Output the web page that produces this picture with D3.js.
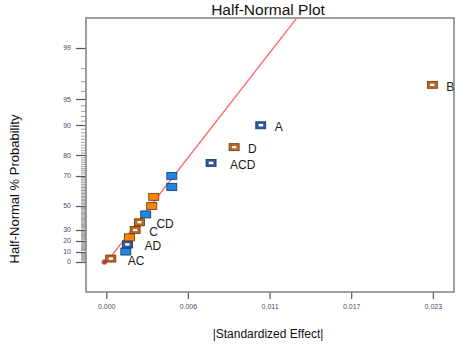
<!DOCTYPE html>
<html>
<head>
<meta charset="utf-8">
<script src="https://cdn.jsdelivr.net/npm/d3@7"></script>
<style>
  body { margin: 0; background: #fff; }
  svg { display: block; font-family: "Liberation Sans", Arial, sans-serif; }
</style>
</head>
<body>
<div id="chart"></div>
<script>
// effects, sorted by |effect|, with their half-normal % probability
var effects     = [0.00028, 0.00133, 0.00144, 0.00158, 0.00198, 0.00228, 0.00272, 0.00314, 0.00328, 0.00454, 0.00454, 0.00728, 0.00889, 0.01075, 0.02273];
var probability = [3.3, 10, 16.7, 23.3, 30, 36.7, 43.3, 50, 56.7, 63.3, 70, 76.7, 83.3, 90, 96.7];
var termLabels  = ['AC', '', 'AD', '', 'C', 'CD', '', '', '', '', '', 'ACD', 'D', 'A', 'B'];
var signs       = ['+', '-', '-', '+', '+', '+', '-', '+', '+', '-', '-', '-', '+', '-', '+'];

// the little marker sitting at the origin of the line
var originPoint = { value: -0.00017, prob: 0 };

// fitted line: |effect| = sigma * z
var lineSigma = 0.004517;

var yTicks = [0, 10, 20, 30, 50, 70, 80, 90, 95, 99];
var xTicks = [0, 0.0057, 0.0114, 0.0171, 0.0228];
var xTickLabels = ['0.000', '0.006', '0.011', '0.017', '0.023'];

var W = 465, H = 354;
var pLeft = 86, pRight = 454, pTop = 18, pBottom = 292;

// inverse normal cdf (Acklam)
function invNorm(p) {
  var a = [-3.969683028665376e+01, 2.209460984245205e+02, -2.759285104469687e+02, 1.383577518672690e+02, -3.066479806614716e+01, 2.506628277459239e+00];
  var b = [-5.447609879822406e+01, 1.615858368580409e+02, -1.556989798598866e+02, 6.680131188771972e+01, -1.328068155288572e+01];
  var c = [-7.784894002430293e-03, -3.223964580411365e-01, -2.400758277161838e+00, -2.549671010229244e+00, 4.374664141464968e+00, 2.938163982698783e+00];
  var d = [7.784695709041462e-03, 3.224671290700398e-01, 2.445134137142996e+00, 3.754408661907416e+00];
  var pl = 0.02425, q, r;
  if (p < pl) {
    q = Math.sqrt(-2 * Math.log(p));
    return (((((c[0]*q+c[1])*q+c[2])*q+c[3])*q+c[4])*q+c[5]) / ((((d[0]*q+d[1])*q+d[2])*q+d[3])*q+1);
  }
  if (p <= 1 - pl) {
    q = p - 0.5; r = q*q;
    return (((((a[0]*r+a[1])*r+a[2])*r+a[3])*r+a[4])*r+a[5])*q / (((((b[0]*r+b[1])*r+b[2])*r+b[3])*r+b[4])*r+1);
  }
  q = Math.sqrt(-2 * Math.log(1 - p));
  return -(((((c[0]*q+c[1])*q+c[2])*q+c[3])*q+c[4])*q+c[5]) / ((((d[0]*q+d[1])*q+d[2])*q+d[3])*q+1);
}
function halfZ(pct) { return pct <= 0 ? 0 : invNorm(0.5 + pct / 200); }

var x = d3.scaleLinear().domain([-0.00145, 0.02424]).range([pLeft, pRight]);
var yz = d3.scaleLinear().domain([-0.361, 2.936]).range([pBottom, pTop]);
var y = function(pct) { return yz(halfZ(pct)); };

var svg = d3.select('#chart').append('svg')
  .attr('width', W)
  .attr('height', H);

svg.append('defs').append('clipPath').attr('id', 'plotclip')
  .append('rect')
  .attr('x', pLeft).attr('y', pTop)
  .attr('width', pRight - pLeft).attr('height', pBottom - pTop);

// title
svg.append('text')
  .attr('x', 268).attr('y', 15)
  .attr('text-anchor', 'middle')
  .attr('font-size', 15.5)
  .style('fill', '#111')
  .text('Half-Normal Plot');

// y axis: minor ticks every 1%
var minor = d3.range(1, 99).filter(function(v) { return yTicks.indexOf(v) < 0; });
svg.append('g').selectAll('line').data(minor).enter().append('line')
  .attr('x1', 81).attr('x2', pLeft)
  .attr('y1', function(d) { return y(d); })
  .attr('y2', function(d) { return y(d); })
  .style('stroke', '#777')
  .style('stroke-width', 0.7);

var yAxis = svg.append('g');
yAxis.selectAll('line').data(yTicks).enter().append('line')
  .attr('x1', 76).attr('x2', pLeft)
  .attr('y1', function(d) { return Math.round(y(d)) + 0.5; })
  .attr('y2', function(d) { return Math.round(y(d)) + 0.5; })
  .style('stroke', '#555')
  .style('stroke-width', 1.2);
yAxis.selectAll('text').data(yTicks).enter().append('text')
  .attr('x', 71)
  .attr('y', function(d) { return y(d) + 2.5; })
  .attr('text-anchor', 'end')
  .attr('font-size', 7)
  .style('fill', '#4a4a6a')
  .text(function(d) { return d; });

// x axis
var xAxis = svg.append('g');
xAxis.selectAll('line').data(xTicks).enter().append('line')
  .attr('x1', function(d) { return x(d); })
  .attr('x2', function(d) { return x(d); })
  .attr('y1', pBottom).attr('y2', pBottom + 7)
  .style('stroke', '#555')
  .style('stroke-width', 1.2);
xAxis.selectAll('text').data(xTicks).enter().append('text')
  .attr('x', function(d) { return x(d); })
  .attr('y', 309)
  .attr('text-anchor', 'middle')
  .attr('font-size', 7)
  .style('fill', '#4a4a6a')
  .text(function(d, i) { return xTickLabels[i]; });

// frame
svg.append('rect')
  .attr('x', pLeft).attr('y', pTop)
  .attr('width', pRight - pLeft).attr('height', pBottom - pTop)
  .style('fill', 'none')
  .style('stroke', '#808080')
  .style('stroke-width', 1.5);

// axis titles
svg.append('text')
  .attr('x', 268).attr('y', 338)
  .attr('text-anchor', 'middle')
  .attr('font-size', 12)
  .style('fill', '#111')
  .text('|Standardized Effect|');

svg.append('text')
  .attr('transform', 'translate(19,189) rotate(-90)')
  .attr('text-anchor', 'middle')
  .attr('font-size', 13)
  .style('fill', '#111')
  .text('Half-Normal % Probability');

var g = svg.append('g').attr('clip-path', 'url(#plotclip)');

// fitted line
var zTop = yz.domain()[1];
g.append('line')
  .attr('x1', x(0)).attr('y1', yz(0))
  .attr('x2', x(lineSigma * zTop)).attr('y2', yz(zTop))
  .style('stroke', '#ff6b6b')
  .style('stroke-width', 1.3);

// origin marker
g.append('circle')
  .attr('cx', x(originPoint.value))
  .attr('cy', y(originPoint.prob))
  .attr('r', 2.5)
  .style('fill', '#b0404a')
  .style('stroke', '#e08080')
  .style('stroke-width', 0.8);

var pts = effects.map(function(v, i) {
  return { value: v, prob: probability[i], label: termLabels[i], sign: signs[i] };
});

var colors = {
  '+': { solid: '#f5850f', hollow: '#c9661a', edge: '#6b3408' },
  '-': { solid: '#1f86e6', hollow: '#1e5db8', edge: '#15325e' }
};

var marks = g.selectAll('.pt').data(pts).enter().append('g')
  .attr('class', 'pt')
  .attr('transform', function(d) { return 'translate(' + x(d.value) + ',' + y(d.prob) + ')'; });

marks.append('rect')
  .attr('x', -5).attr('y', -3.5)
  .attr('width', 10).attr('height', 7)
  .style('fill', function(d) { return d.label ? colors[d.sign].hollow : colors[d.sign].solid; })
  .style('stroke', function(d) { return colors[d.sign].edge; })
  .style('stroke-width', 0.8);

marks.filter(function(d) { return d.label; }).append('rect')
  .attr('x', -2.5).attr('y', -1.5)
  .attr('width', 5).attr('height', 3)
  .style('fill', '#fff')
  .style('stroke', colors['+'].edge)
  .style('stroke-width', 0.4);

var labelDx = { ACD: 19, CD: 17, AD: 17, AC: 17 };
g.selectAll('.term').data(pts.filter(function(d) { return d.label; })).enter().append('text')
  .attr('class', 'term')
  .attr('x', function(d) { return x(d.value) + (labelDx[d.label] || 14); })
  .attr('y', function(d) { return y(d.prob) + 6; })
  .attr('font-size', 12)
  .style('fill', '#1a1a1a')
  .text(function(d) { return d.label; });
</script>
</body>
</html>
